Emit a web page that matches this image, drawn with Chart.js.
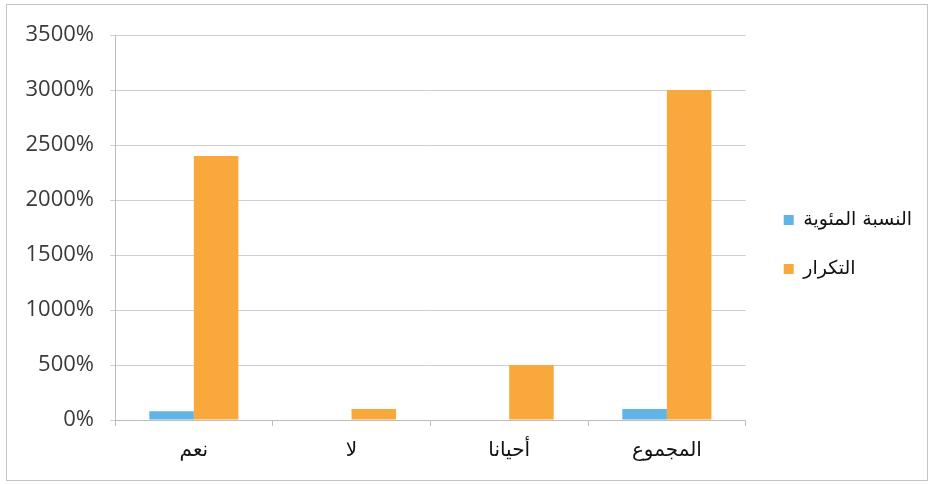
<!DOCTYPE html>
<html>
<head>
<meta charset="utf-8">
<script src="https://cdn.jsdelivr.net/npm/chart.js@4"></script>
<style>
  html, body { margin: 0; padding: 0; background: #fff; }
  #wrap { width: 932px; height: 484px; position: relative; }
</style>
</head>
<body>
<div id="wrap"><canvas id="c" width="932" height="484"></canvas></div>
<script>
// Survey answers and their totals
const categories = ['نعم', 'لا', 'أحيانا', 'المجموع'];
const percentValues = [80, 0, 0, 100];          // النسبة المئوية
const frequencyValues = [2400, 100, 500, 3000]; // التكرار
const yTicks = [0, 500, 1000, 1500, 2000, 2500, 3000, 3500];

const seriesNames = ['النسبة المئوية', 'التكرار'];
const seriesColors = ['#62b3e6', '#f9a83c'];

// Thin frame around the whole figure
const framePlugin = {
  id: 'frame',
  afterDraw(chart) {
    const ctx = chart.ctx;
    ctx.save();
    ctx.strokeStyle = '#c4c4c4';
    ctx.lineWidth = 1;
    ctx.strokeRect(6.5, 4.5, 921, 476);
    ctx.restore();
  }
};

// Move the legend up to the plot's middle and a bit away from the bars
const legendShift = {
  id: 'legendShift',
  afterLayout(chart) {
    if (chart.legend) {
      chart.legend.top -= 15;
      chart.legend.bottom -= 15;
      chart.legend.left += 8;
      chart.legend.right += 8;
    }
  }
};

new Chart(document.getElementById('c'), {
  type: 'bar',
  data: {
    labels: categories,
    datasets: [
      { label: seriesNames[0], data: percentValues, backgroundColor: seriesColors[0] },
      { label: seriesNames[1], data: frequencyValues, backgroundColor: seriesColors[1] }
    ]
  },
  options: {
    responsive: false,
    animation: false,
    devicePixelRatio: 1,
    layout: { padding: { top: 35, right: 18, bottom: 0, left: 0 } },
    datasets: { bar: { categoryPercentage: 0.565, barPercentage: 1.0 } },
    plugins: {
      tooltip: { enabled: false },
      legend: {
        position: 'right',
        align: 'center',
        labels: {
          boxWidth: 10,
          boxHeight: 10,
          padding: 30,
          color: '#111',
          font: { family: 'DejaVu Sans', size: 19 }
        }
      }
    },
    scales: {
      x: {
        afterFit(s) { s.height = 64; },
        grid: {
          offset: true,
          drawOnChartArea: false,
          drawTicks: true,
          tickLength: 6,
          color: '#bdbdbd'
        },
        border: { display: true, color: '#bdbdbd' },
        ticks: {
          padding: 13,
          color: '#111',
          font: { family: 'DejaVu Sans', size: 20 }
        }
      },
      y: {
        min: 0,
        max: 3500,
        afterFit(s) { s.width = 115; },
        afterBuildTicks(s) { s.ticks = yTicks.map(v => ({ value: v })); },
        grid: {
          color: '#cfcfcf',
          tickLength: 5,
          drawTicks: true
        },
        border: { display: true, color: '#bdbdbd' },
        ticks: {
          padding: 16,
          color: '#3a3a3a',
          font: { family: 'Open Sans', size: 22 },
          callback: v => v + '%'
        }
      }
    }
  },
  plugins: [framePlugin, legendShift]
});
</script>
</body>
</html>
